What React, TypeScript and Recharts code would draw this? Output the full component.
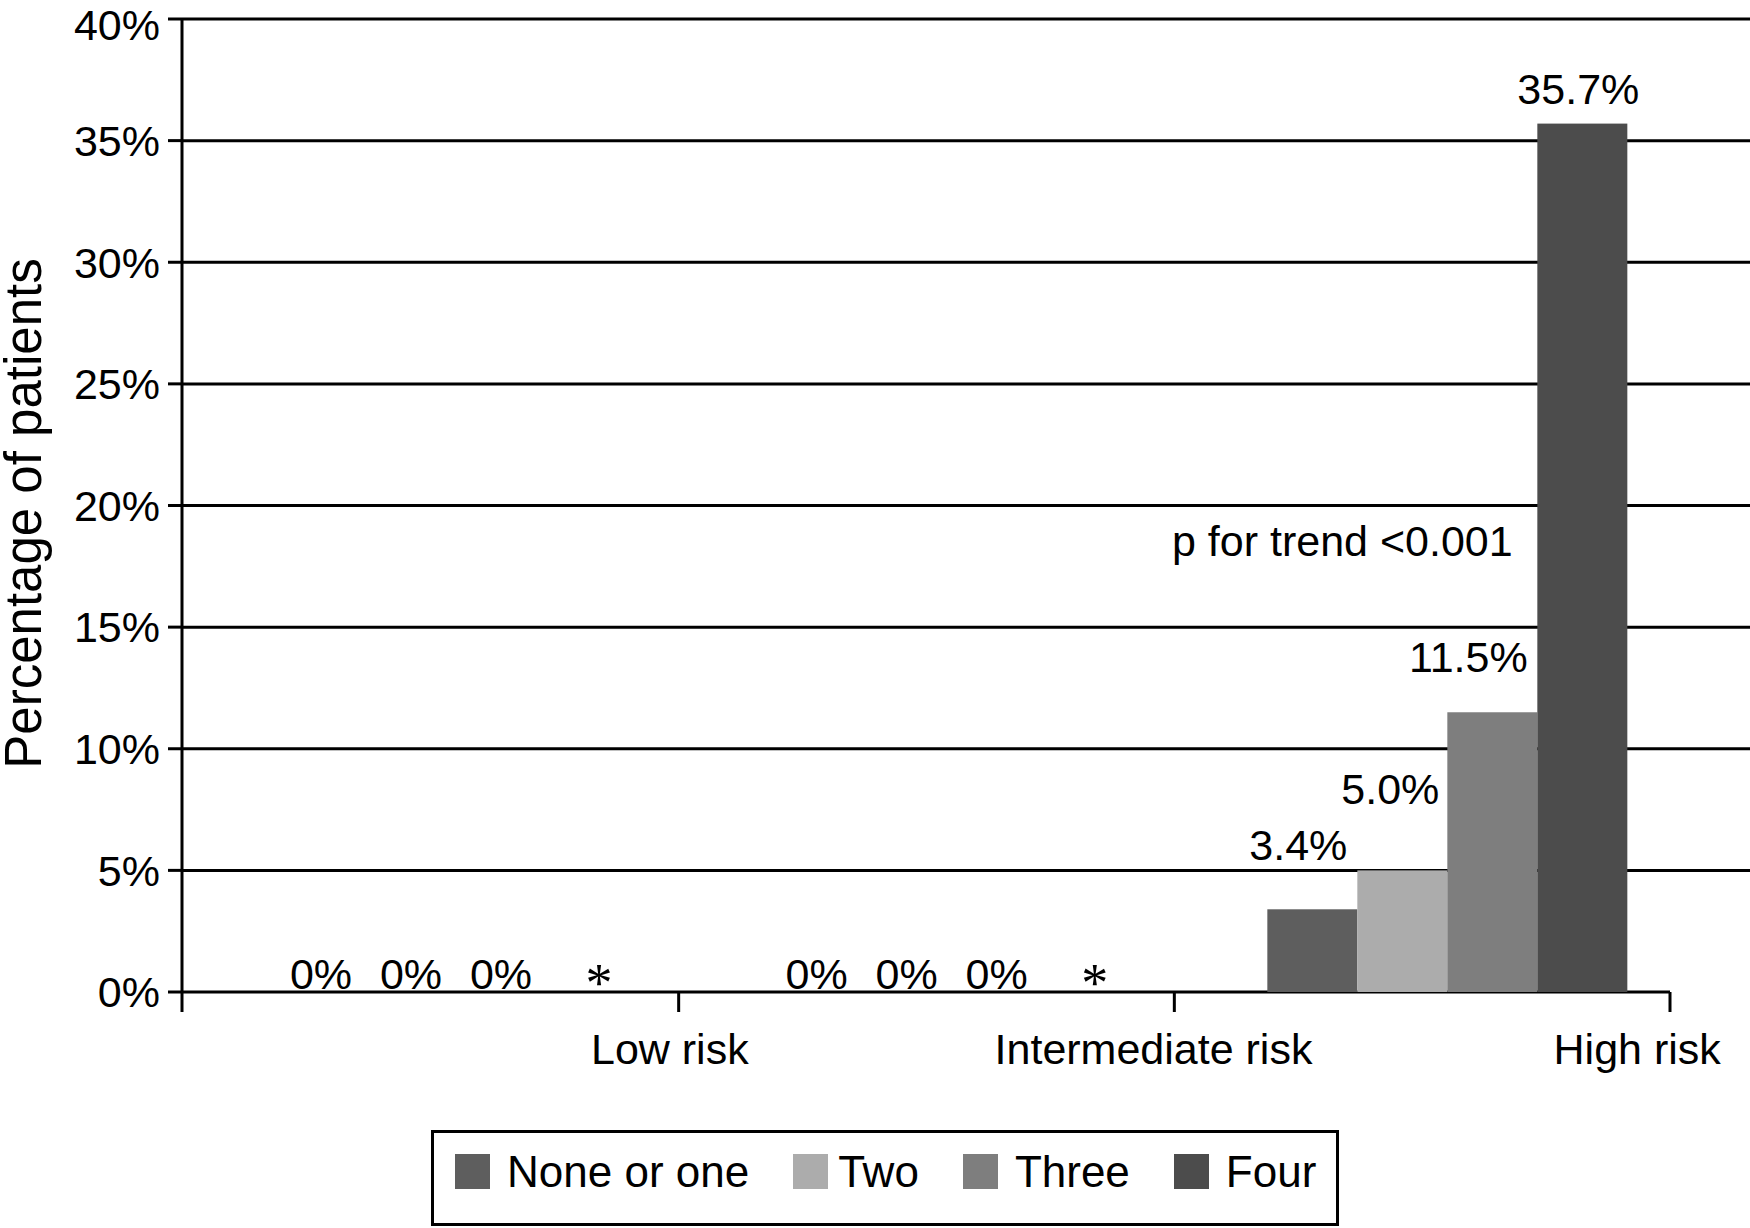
import React from 'react'
import { BarChart, Bar, XAxis, YAxis, CartesianGrid, LabelList } from 'recharts'

// risk groups on the x axis
const riskGroups = ['Low risk', 'Intermediate risk', 'High risk']

// % of patients, by number of criteria met (null = not available, shown as *)
const noneOrOne = [0, 0, 3.4]
const two = [0, 0, 5.0]
const three = [0, 0, 11.5]
const four: (number | null)[] = [null, null, 35.7]

const yTicks = [0, 5, 10, 15, 20, 25, 30, 35, 40]
const trendNote = 'p for trend <0.001'

const series = [
  { key: 'noneOrOne', name: 'None or one', color: '#5e5e5e', values: noneOrOne, nudge: { dx: -14, dy: -49 } },
  { key: 'two', name: 'Two', color: '#acacac', values: two, nudge: { dx: -12, dy: -66 } },
  { key: 'three', name: 'Three', color: '#7e7e7e', values: three, nudge: { dx: -24, dy: -40 } },
  { key: 'four', name: 'Four', color: '#4c4c4c', values: four, nudge: { dx: -4, dy: -20 } },
]

const rows = riskGroups.map((group, i) => {
  const row: Record<string, any> = { group }
  series.forEach((s) => {
    row[s.key] = s.values[i]
  })
  return row
})

const W = 1750
const H = 1228
const FONT = '"Liberation Sans", Arial, Helvetica, sans-serif'
const Y_AXIS_W = 182
const PAD_L = 26
const PAD_R = 55
const BAND = (W - Y_AXIS_W - PAD_L - PAD_R) / riskGroups.length
const AXIS_END_TRIM = PAD_R + 25

const makeLabel = (key: string, nudge: { dx: number; dy: number }) => (props: any) => {
  const x = Number(props.x)
  const y = Number(props.y)
  const w = Number(props.width)
  const h = Number(props.height)
  const v = rows[props.index]?.[key]
  const cx = x + w / 2
  const base = y + h
  if (v == null) {
    return (
      <text x={cx + 8} y={base + 9} textAnchor="middle" fontFamily='"Liberation Serif", "DejaVu Serif", serif' fontSize={54} fill="#000">
        *
      </text>
    )
  }
  if (v === 0) {
    return (
      <text x={cx} y={base - 3} textAnchor="middle" fontFamily={FONT} fontSize={43} fill="#000">
        0%
      </text>
    )
  }
  return (
    <text x={cx + nudge.dx} y={y + nudge.dy} textAnchor="middle" fontFamily={FONT} fontSize={43} fill="#000">
      {`${v.toFixed(1)}%`}
    </text>
  )
}

// zero-height bars only carry their labels, nothing is painted
const BarShape = (p: any) =>
  p.height >= 2 ? <rect x={p.x} y={p.y} width={p.width} height={p.height} fill={p.fill} /> : <g />

const gridLine = (p: any) => {
  const isBase = Math.abs(p.y1 - (p.y + p.height)) < 1
  return (
    <line
      key={p.key}
      x1={p.x1}
      y1={p.y1}
      x2={isBase ? p.x2 - AXIS_END_TRIM : p.x2}
      y2={p.y2}
      stroke="#000"
      strokeWidth={3}
    />
  )
}

const GroupTick = (props: any) => {
  const { x, y, payload, index } = props
  const right = x + BAND / 2 - 25
  return (
    <g>
      {index === 0 && <line x1={x - BAND / 2 - PAD_L} y1={y} x2={x - BAND / 2 - PAD_L} y2={y + 20} stroke="#000" strokeWidth={3} />}
      <line x1={right} y1={y} x2={right} y2={y + 20} stroke="#000" strokeWidth={3} />
      <text x={x + 214 - 12 * index} y={y + 72} textAnchor="middle" fontFamily={FONT} fontSize={43} fill="#000">
        {payload.value}
      </text>
    </g>
  )
}

const YTitle = (props: any) => {
  const vb = props.viewBox
  const cx = (vb?.x ?? 0) + 41
  const cy = vb ? vb.y + vb.height / 2 + 8 : 514
  return (
    <text x={cx} y={cy} transform={`rotate(-90 ${cx} ${cy})`} textAnchor="middle" fontFamily={FONT} fontSize={51} fill="#000">
      Percentage of patients
    </text>
  )
}

export default function App() {
  return (
    <div style={{ position: 'absolute', left: 0, top: 0, width: W, height: H, background: '#fff' }}>
      <BarChart
        width={W}
        height={H}
        data={rows}
        margin={{ top: 19, right: 0, bottom: 156, left: 0 }}
        barGap={0}
        barSize={90}
      >
        <CartesianGrid vertical={false} horizontal={gridLine} />
        <XAxis
          dataKey="group"
          axisLine={false}
          tickLine={false}
          tickSize={0}
          tickMargin={0}
          height={80}
          padding={{ left: PAD_L, right: PAD_R }}
          tick={<GroupTick />}
          interval={0}
        />
        <YAxis
          width={Y_AXIS_W}
          domain={[0, 40]}
          ticks={yTicks}
          tickFormatter={(v) => `${v}%`}
          axisLine={{ stroke: '#000', strokeWidth: 3 }}
          tickLine={{ stroke: '#000', strokeWidth: 3 }}
          tickSize={14}
          tickMargin={8}
          tick={{ fill: '#000', fontSize: 43, fontFamily: FONT }}
          label={YTitle}
        />
        {series.map((s) => (
          <Bar
            key={s.key}
            dataKey={(d: any) => d[s.key] ?? 0}
            name={s.name}
            fill={s.color}
            minPointSize={1}
            shape={BarShape}
            isAnimationActive={false}
          >
            <LabelList content={makeLabel(s.key, s.nudge)} />
          </Bar>
        ))}
      </BarChart>

      <div
        style={{
          position: 'absolute',
          left: 1172,
          top: 520,
          fontFamily: FONT,
          fontSize: 43,
          lineHeight: '43px',
          whiteSpace: 'nowrap',
          color: '#000',
        }}
      >
        {trendNote}
      </div>

      <div
        style={{
          position: 'absolute',
          left: 431,
          top: 1130,
          width: 908,
          height: 96,
          boxSizing: 'border-box',
          border: '3px solid #000',
          background: '#fff',
          display: 'flex',
          alignItems: 'flex-start',
          paddingLeft: 21,
          paddingTop: 21,
          fontFamily: FONT,
          fontSize: 44,
          color: '#000',
        }}
      >
        {series.map((s, i) => (
          <div key={s.key} style={{ display: 'flex', alignItems: 'center', marginLeft: i === 0 ? 0 : 44, height: 35 }}>
            <span style={{ display: 'inline-block', width: 35, height: 35, background: s.color, marginRight: i === 1 ? 10 : 17 }} />
            <span style={{ lineHeight: '35px', whiteSpace: 'nowrap' }}>{s.name}</span>
          </div>
        ))}
      </div>
    </div>
  )
}
